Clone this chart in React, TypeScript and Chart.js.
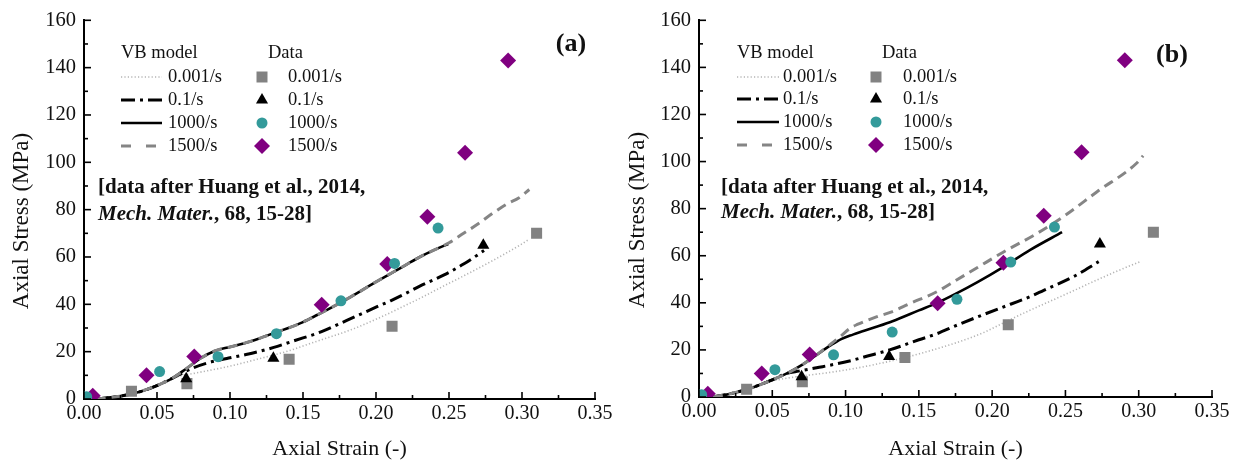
import React, { useEffect, useRef } from 'react';
import { Chart, registerables } from 'chart.js';

Chart.register(...registerables);

const FONT = "'Liberation Serif', 'Times New Roman', serif";

// ---------- Experimental data (same in both panels) ----------
const sq001Strain = [0.0325, 0.0705, 0.1405, 0.211, 0.31];
const sq001Stress = [3.3, 6.5, 16.8, 30.7, 70];
const tri01Strain = [0.07, 0.1297, 0.2735];
const tri01Stress = [8.6, 17.2, 65];
const circ1000Strain = [0.0018, 0.0518, 0.0918, 0.1318, 0.176, 0.2127, 0.2425];
const circ1000Stress = [1, 11.6, 17.9, 27.6, 41.5, 57.3, 72.2];
const dia1500Strain = [0.006, 0.0428, 0.0755, 0.1628, 0.2077, 0.2352, 0.261, 0.2905];
const dia1500Stress = [1.4, 10, 18, 39.8, 57, 77, 104, 143];

// ---------- VB model, panel (a) ----------
const a001Strain = [0.008, 0.02, 0.03, 0.04, 0.05, 0.06, 0.066, 0.075, 0.085, 0.098, 0.11, 0.12, 0.13, 0.141, 0.15, 0.16, 0.17, 0.18, 0.19, 0.2, 0.211, 0.22, 0.23, 0.245, 0.26, 0.28, 0.298, 0.305];
const a001Stress = [0, 0.8, 1.8, 3.4, 5.7, 8.6, 9.8, 10.8, 12, 13.6, 15.4, 17, 18.6, 20.5, 22.4, 24.5, 26.5, 28.6, 31, 33.7, 36.8, 39.5, 42.5, 47.3, 52, 58.5, 64.8, 67.5];
const a01Strain = [0.008, 0.02, 0.03, 0.04, 0.05, 0.06, 0.066, 0.075, 0.085, 0.093, 0.1, 0.111, 0.12, 0.13, 0.141, 0.15, 0.16, 0.17, 0.18, 0.19, 0.2, 0.21, 0.22, 0.23, 0.24, 0.25, 0.26, 0.274];
const a01Stress = [0, 0.8, 1.8, 3.4, 5.7, 8.6, 10.5, 13.2, 15.3, 16.5, 17.4, 18.8, 20.1, 21.8, 24, 25.8, 27.8, 30.4, 33.2, 36, 38.8, 41.5, 44.5, 47.7, 50.5, 53.5, 57, 62.7];
const a1000Strain = [0.008, 0.02, 0.03, 0.04, 0.05, 0.06, 0.07, 0.08, 0.09, 0.1, 0.11, 0.12, 0.132, 0.14, 0.15, 0.16, 0.17, 0.18, 0.19, 0.2, 0.21, 0.22, 0.23, 0.24, 0.2495];
const a1000Stress = [0, 0.8, 1.8, 3.4, 5.7, 8.6, 12.8, 17.3, 20.4, 22, 23.6, 25.6, 28.3, 30, 32.5, 35.6, 38.8, 42.2, 45.8, 49.5, 53, 56.5, 60, 63, 65.5];
const a1500Strain = [0.008, 0.02, 0.03, 0.04, 0.05, 0.06, 0.07, 0.08, 0.09, 0.1, 0.11, 0.12, 0.132, 0.14, 0.15, 0.16, 0.17, 0.18, 0.19, 0.2, 0.21, 0.22, 0.23, 0.24, 0.25, 0.26, 0.27, 0.28, 0.29, 0.298, 0.305];
const a1500Stress = [0, 0.8, 1.8, 3.4, 5.7, 8.6, 12.8, 17.3, 20.4, 22, 23.6, 25.6, 28.3, 30, 32.5, 35.6, 38.8, 42.2, 45.8, 49.5, 53, 56.5, 60, 63, 66, 70, 74, 78.5, 82.5, 85, 88.5];

// ---------- VB model, panel (b) ----------
const b001Strain = [0.0095, 0.02, 0.032, 0.04, 0.05, 0.06, 0.075, 0.09, 0.105, 0.12, 0.135, 0.15, 0.165, 0.18, 0.195, 0.21, 0.225, 0.24, 0.255, 0.27, 0.285, 0.301];
const b001Stress = [0, 1.2, 3.1, 4.8, 6.8, 8, 9.3, 10.5, 12, 13.8, 15.9, 18.3, 21, 24, 27.6, 32.2, 36.6, 40.8, 45, 49.3, 53.4, 57.5];
const b01Strain = [0.0095, 0.02, 0.032, 0.04, 0.05, 0.06, 0.068, 0.082, 0.1027, 0.115, 0.13, 0.15, 0.162, 0.176, 0.19, 0.2125, 0.2258, 0.2352, 0.2557, 0.2727];
const b01Stress = [0, 1.2, 3.1, 4.8, 7.3, 10, 11, 12.6, 15.3, 17.4, 20, 24.3, 26.8, 30.5, 34, 39.4, 42.6, 45.3, 51.2, 57.5];
const b1000Strain = [0.0095, 0.02, 0.032, 0.04, 0.05, 0.06, 0.07, 0.08, 0.09, 0.097, 0.105, 0.12, 0.132, 0.15, 0.1625, 0.175, 0.19, 0.2075, 0.226, 0.2477];
const b1000Stress = [0, 1.2, 3.1, 4.8, 7.3, 10, 13.5, 17.8, 22, 24.6, 26.5, 29.6, 32.2, 36.8, 40, 43.8, 48.8, 55.2, 62.5, 70];
const b1500Strain = [0.0095, 0.02, 0.032, 0.04, 0.05, 0.06, 0.07, 0.08, 0.09, 0.097, 0.103, 0.108, 0.121, 0.132, 0.1436, 0.1625, 0.176, 0.19, 0.2075, 0.2307, 0.249, 0.2716, 0.2989, 0.303];
const b1500Stress = [0, 1.2, 3.1, 4.8, 7.3, 10, 13.5, 17.8, 22.5, 26, 29.2, 30.8, 34, 36.3, 39.6, 44.8, 49.8, 55, 61.5, 69.5, 76.8, 87.2, 99.5, 102.5];

// ---------- Axis ticks & text ----------
const xTickValues = [0, 0.05, 0.1, 0.15, 0.2, 0.25, 0.3, 0.35];
const xTickLabels = ['0.00', '0.05', '0.10', '0.15', '0.20', '0.25', '0.30', '0.35'];
const yTickValues = [0, 20, 40, 60, 80, 100, 120, 140, 160];
const yTickLabels = ['0', '20', '40', '60', '80', '100', '120', '140', '160'];
const rateLabels = ['0.001/s', '0.1/s', '1000/s', '1500/s'];
const xTitle = 'Axial Strain (-)';
const yTitle = 'Axial Stress (MPa)';
const legendHeadModel = 'VB model';
const legendHeadData = 'Data';
const noteLine1 = '[data after Huang et al., 2014,';
const noteJournal = 'Mech. Mater.';
const noteRest = ', 68, 15-28]';

const COLORS = {
  dotted: '#b4b4b4',
  dashdot: '#000000',
  solid: '#000000',
  dashed: '#858585',
  square: '#828282',
  triangle: '#000000',
  circle: '#339a9a',
  diamond: '#800080',
};

const LINE_STYLES = [
  { color: COLORS.dotted, width: 1.6, dash: [1.2, 2.2] },
  { color: COLORS.dashdot, width: 3, dash: [13, 5, 3, 5] },
  { color: COLORS.solid, width: 2.6, dash: [] as number[] },
  { color: COLORS.dashed, width: 3, dash: [10, 6] },
];

const xy = (xs: number[], ys: number[]) => xs.map((x, i) => ({ x, y: ys[i] }));

function drawMarker(ctx: CanvasRenderingContext2D, kind: number, x: number, y: number) {
  ctx.beginPath();
  if (kind === 0) {
    ctx.fillStyle = COLORS.square;
    ctx.rect(x - 5.5, y - 5.5, 11, 11);
  } else if (kind === 1) {
    ctx.fillStyle = COLORS.triangle;
    const r = 7;
    ctx.moveTo(x, y - r);
    ctx.lineTo(x + r * 0.866, y + r * 0.5);
    ctx.lineTo(x - r * 0.866, y + r * 0.5);
    ctx.closePath();
  } else if (kind === 2) {
    ctx.fillStyle = COLORS.circle;
    ctx.arc(x, y, 5.5, 0, Math.PI * 2);
  } else {
    ctx.fillStyle = COLORS.diamond;
    const r = 8;
    ctx.moveTo(x, y - r);
    ctx.lineTo(x + r, y);
    ctx.lineTo(x, y + r);
    ctx.lineTo(x - r, y);
    ctx.closePath();
  }
  ctx.fill();
}

type PanelCfg = {
  areaLeft: number;
  areaRight: number;
  areaTop: number;
  areaBottom: number;
  models: [number[], number[]][];
  tag: string;
  tagX: number;
  tagY: number;
  legX: number;
  lineEnd: number;
  lineText: number;
  dataX: number;
  markX: number;
  markText: number;
  headY: number;
  rows: number[];
  noteX: number;
  noteY1: number;
  noteY2: number;
  yTitleX: number;
  yTitleY: number;
};

const W = 618;
const H = 462;

function Panel({ cfg }: { cfg: PanelCfg }) {
  const ref = useRef<HTMLCanvasElement | null>(null);
  useEffect(() => {
    if (!ref.current) return;
    const lineSets = cfg.models.map(([xs, ys], i) => ({
      type: 'line' as const,
      data: xy(xs, ys),
      showLine: true,
      borderColor: LINE_STYLES[i].color,
      borderWidth: LINE_STYLES[i].width,
      borderDash: LINE_STYLES[i].dash,
      pointRadius: 0,
      cubicInterpolationMode: 'monotone' as const,
      fill: false,
      order: 7 - i,
    }));
    const pointSets = [
      { data: xy(sq001Strain, sq001Stress), pointStyle: 'rect', pointRadius: 7.8, backgroundColor: COLORS.square, order: 3 },
      { data: xy(tri01Strain, tri01Stress), pointStyle: 'triangle', pointRadius: 7, backgroundColor: COLORS.triangle, order: 2 },
      { data: xy(circ1000Strain, circ1000Stress), pointStyle: 'circle', pointRadius: 5.5, backgroundColor: COLORS.circle, order: 0 },
      { data: xy(dia1500Strain, dia1500Stress), pointStyle: 'rectRot', pointRadius: 8, backgroundColor: COLORS.diamond, order: 1 },
    ].map((d) => ({ ...d, type: 'scatter' as const, showLine: false, borderWidth: 0, borderColor: 'rgba(0,0,0,0)', pointBorderWidth: 0 }));

    const decor = {
      id: 'decor',
      afterDraw(chart: any) {
        const ctx: CanvasRenderingContext2D = chart.ctx;
        const xs = chart.scales.x;
        const ys = chart.scales.y;
        const ax = chart.chartArea.left;
        const ay = chart.chartArea.bottom;
        ctx.save();
        // inward ticks (major + minor)
        ctx.strokeStyle = '#000';
        ctx.lineWidth = 1.6;
        ctx.setLineDash([]);
        for (let i = 0; i < yTickValues.length; i++) {
          const v = yTickValues[i];
          const p = ys.getPixelForValue(v);
          ctx.beginPath(); ctx.moveTo(ax, p); ctx.lineTo(ax + 7, p); ctx.stroke();
          if (i < yTickValues.length - 1) {
            const pm = ys.getPixelForValue((v + yTickValues[i + 1]) / 2);
            ctx.beginPath(); ctx.moveTo(ax, pm); ctx.lineTo(ax + 4, pm); ctx.stroke();
          }
        }
        for (let i = 0; i < xTickValues.length; i++) {
          const v = xTickValues[i];
          const p = xs.getPixelForValue(v);
          ctx.beginPath(); ctx.moveTo(p, ay); ctx.lineTo(p, ay - 7); ctx.stroke();
          if (i < xTickValues.length - 1) {
            const pm = xs.getPixelForValue((v + xTickValues[i + 1]) / 2);
            ctx.beginPath(); ctx.moveTo(pm, ay); ctx.lineTo(pm, ay - 4); ctx.stroke();
          }
        }
        // y-axis title
        ctx.save();
        ctx.translate(cfg.yTitleX, cfg.yTitleY);
        ctx.rotate(-Math.PI / 2);
        ctx.fillStyle = '#111';
        ctx.font = `23px ${FONT}`;
        ctx.textAlign = 'center';
        ctx.textBaseline = 'middle';
        ctx.fillText(yTitle, 0, 0);
        ctx.restore();
        // legend
        ctx.fillStyle = '#111';
        ctx.textBaseline = 'middle';
        ctx.textAlign = 'left';
        ctx.font = `18.5px ${FONT}`;
        ctx.fillText(legendHeadModel, cfg.legX, cfg.headY);
        ctx.fillText(legendHeadData, cfg.dataX, cfg.headY);
        cfg.rows.forEach((ry, i) => {
          const st = LINE_STYLES[i];
          ctx.save();
          ctx.strokeStyle = st.color;
          ctx.lineWidth = st.width;
          ctx.setLineDash(i === 3 ? [10, 15] : i === 1 ? [14, 5, 3, 5] : st.dash);
          ctx.beginPath(); ctx.moveTo(cfg.legX, ry); ctx.lineTo(cfg.lineEnd, ry); ctx.stroke();
          ctx.restore();
          ctx.fillStyle = '#111';
          ctx.fillText(rateLabels[i], cfg.lineText, ry);
          drawMarker(ctx, i, cfg.markX, ry);
          ctx.fillStyle = '#111';
          ctx.fillText(rateLabels[i], cfg.markText, ry);
        });
        // note
        ctx.fillStyle = '#111';
        ctx.font = `bold 21px ${FONT}`;
        ctx.fillText(noteLine1, cfg.noteX, cfg.noteY1);
        ctx.font = `italic bold 21px ${FONT}`;
        ctx.fillText(noteJournal, cfg.noteX, cfg.noteY2);
        const w = ctx.measureText(noteJournal).width;
        ctx.font = `bold 21px ${FONT}`;
        ctx.fillText(noteRest, cfg.noteX + w, cfg.noteY2);
        // tag
        ctx.font = `bold 26px ${FONT}`;
        ctx.textAlign = 'center';
        ctx.fillText(cfg.tag, cfg.tagX, cfg.tagY);
        ctx.restore();
      },
    };

    const chart = new Chart(ref.current, {
      type: 'scatter',
      data: { datasets: [...lineSets, ...pointSets] as any },
      options: {
        responsive: false,
        maintainAspectRatio: false,
        animation: false,
        layout: { padding: { left: 0, top: cfg.areaTop, right: W - cfg.areaRight, bottom: 0 } },
        plugins: { legend: { display: false }, tooltip: { enabled: false } },
        scales: {
          x: {
            type: 'linear',
            min: 0,
            max: 0.35,
            afterFit: (s: any) => { s.height = H - cfg.areaBottom; },
            afterBuildTicks: (s: any) => { s.ticks = xTickValues.map((v) => ({ value: v })); },
            ticks: {
              callback: (v: any) => { const i = xTickValues.findIndex((t) => Math.abs(t - Number(v)) < 1e-9); return i >= 0 ? xTickLabels[i] : ''; },
              color: '#111',
              font: { family: FONT, size: 20 },
              padding: 3,
              maxRotation: 0,
            },
            grid: { display: false, drawTicks: false },
            border: { display: true, color: '#000', width: 2 },
            title: { display: true, text: xTitle, color: '#111', font: { family: FONT, size: 22 }, padding: { top: 0, bottom: 0 } },
          },
          y: {
            type: 'linear',
            min: 0,
            max: 160,
            afterFit: (s: any) => { s.width = cfg.areaLeft; },
            afterBuildTicks: (s: any) => { s.ticks = yTickValues.map((v) => ({ value: v })); },
            ticks: {
              callback: (v: any) => { const i = yTickValues.indexOf(Number(v)); return i >= 0 ? yTickLabels[i] : ''; },
              color: '#111',
              font: { family: FONT, size: 20.5 },
              padding: 8,
            },
            grid: { display: false, drawTicks: false },
            border: { display: true, color: '#000', width: 2 },
            title: { display: false },
          },
        },
      },
      plugins: [decor],
    } as any);
    return () => chart.destroy();
  }, [cfg]);
  return <canvas ref={ref} width={W} height={H} style={{ display: 'block', width: W, height: H }} />;
}

const cfgA: PanelCfg = {
  areaLeft: 84,
  areaRight: 595,
  areaTop: 20,
  areaBottom: 399,
  models: [[a001Strain, a001Stress], [a01Strain, a01Stress], [a1000Strain, a1000Stress], [a1500Strain, a1500Stress]],
  tag: '(a)',
  tagX: 571,
  tagY: 44,
  legX: 121,
  lineEnd: 162,
  lineText: 168,
  dataX: 268,
  markX: 262,
  markText: 288,
  headY: 53,
  rows: [77, 100, 123, 146],
  noteX: 98,
  noteY1: 188,
  noteY2: 215,
  yTitleX: 22,
  yTitleY: 221,
};

const cfgB: PanelCfg = {
  areaLeft: 81,
  areaRight: 594,
  areaTop: 20,
  areaBottom: 397,
  models: [[b001Strain, b001Stress], [b01Strain, b01Stress], [b1000Strain, b1000Stress], [b1500Strain, b1500Stress]],
  tag: '(b)',
  tagX: 554,
  tagY: 55,
  legX: 119,
  lineEnd: 161,
  lineText: 165,
  dataX: 264,
  markX: 258,
  markText: 285,
  headY: 53,
  rows: [77, 99, 122, 145],
  noteX: 103,
  noteY1: 188,
  noteY2: 213,
  yTitleX: 20,
  yTitleY: 220,
};

export default function App() {
  return (
    <div style={{ position: 'absolute', left: 0, top: 0, width: 1236, height: 462, display: 'flex', background: '#fff' }}>
      <Panel cfg={cfgA} />
      <Panel cfg={cfgB} />
    </div>
  );
}
